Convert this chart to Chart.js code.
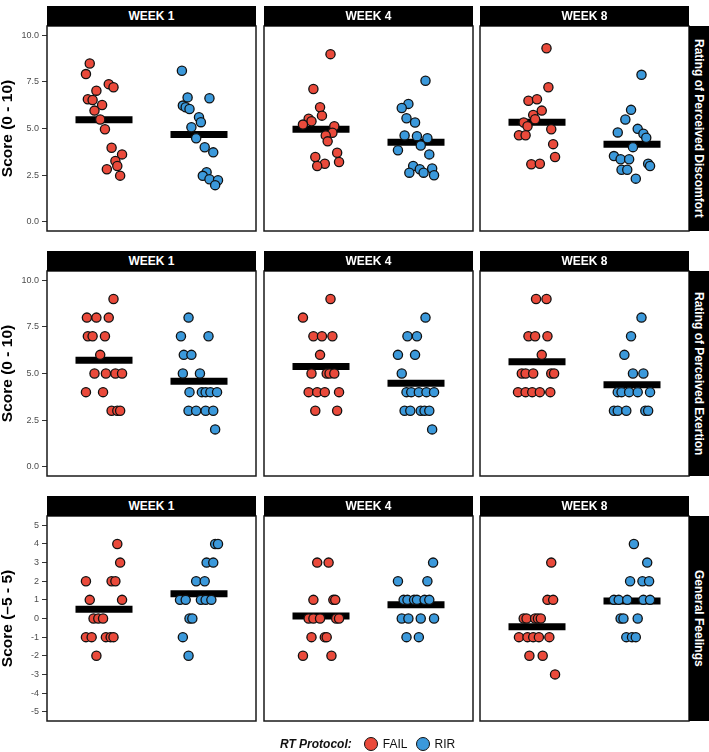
<!DOCTYPE html>
<html><head><meta charset="utf-8">
<script src="https://cdn.jsdelivr.net/npm/chart.js@4.4.1/dist/chart.umd.min.js"></script>
<style>
html,body{margin:0;padding:0;background:#fff;}
body{width:709px;height:752px;position:relative;overflow:hidden;font-family:'Liberation Sans',Arial,Helvetica,sans-serif;}
canvas{position:absolute;}
.strip{position:absolute;background:#000;color:#fff;font-weight:bold;font-size:12px;text-align:center;line-height:20px;height:20px;}
.rstrip{position:absolute;background:#000;color:#fff;font-weight:bold;font-size:12px;writing-mode:vertical-rl;display:flex;align-items:center;justify-content:center;}
#legend{position:absolute;left:280px;top:736px;height:16px;display:flex;align-items:center;font-size:12px;color:#111;}
#legend .ttl{font-weight:bold;font-style:italic;margin-right:12px;}
#legend .key{width:12px;height:12px;border-radius:50%;border:1.5px solid #111;}
</style></head><body>
<script>
// ---------- categories / labels ----------
const weeks = ['WEEK 1', 'WEEK 4', 'WEEK 8'];
const measures = ['Rating of Perceived Discomfort', 'Rating of Perceived Exertion', 'General Feelings'];
const yTitles = ['Score (0 - 10)', 'Score (0 - 10)', 'Score (\u20135 - 5)'];
const protocols = ['FAIL', 'RIR'];
const tickValsA = [0, 2.5, 5, 7.5, 10];
const tickLabelsA = ['0.0', '2.5', '5.0', '7.5', '10.0'];
const tickValsB = [-5, -4, -3, -2, -1, 0, 1, 2, 3, 4, 5];
const tickLabelsB = ['-5', '-4', '-3', '-2', '-1', '0', '1', '2', '3', '4', '5'];
const yRangeA = [-0.5, 10.5];
const yRangeB = [-5.5, 5.5];

// ---------- Rating of Perceived Discomfort ----------
const rpdW1Fail = [8.49,7.92,7.38,7.21,7.03,6.57,6.53,6.26,5.96,5.48,4.96,3.97,3.61,3.26,2.99,2.81,2.47];
const rpdW1FailJit = [-0.15,-0.19,0.05,0.10,-0.08,-0.17,-0.12,-0.02,-0.10,-0.04,0.01,0.08,0.19,0.12,0.14,0.03,0.17];
const rpdW1Rir = [8.10,6.67,6.62,6.23,6.14,6.05,5.60,5.34,5.07,4.48,3.99,3.72,2.65,2.46,2.28,2.22,1.96];
const rpdW1RirJit = [-0.18,-0.12,0.11,-0.17,-0.14,-0.10,0.00,0.02,-0.08,-0.03,0.06,0.15,0.08,0.04,0.11,0.20,0.17];
const rpdW4Fail = [8.99,7.12,6.14,5.69,5.52,5.39,5.21,5.12,4.77,4.63,4.31,3.70,3.47,3.20,3.11,2.99];
const rpdW4FailJit = [0.10,-0.08,-0.01,0.01,-0.13,-0.10,-0.19,0.14,0.12,0.05,0.07,0.17,-0.06,0.19,0.04,-0.04];
const rpdW4Rir = [7.56,6.32,6.10,5.55,5.32,4.63,4.59,4.48,4.09,3.83,3.61,2.99,2.81,2.85,2.63,2.63,2.49];
const rpdW4RirJit = [0.10,-0.08,-0.15,-0.10,-0.01,-0.12,0.01,0.12,0.05,-0.19,0.14,-0.03,0.04,0.17,-0.07,0.08,0.19];
const rpdW8Fail = [9.31,7.21,6.49,6.57,5.96,5.73,5.50,5.32,5.12,4.96,4.64,4.64,4.16,3.47,3.08,3.11];
const rpdW8FailJit = [0.10,0.12,-0.09,0.00,0.05,-0.04,-0.02,-0.14,-0.10,0.15,-0.19,-0.12,0.17,0.19,-0.06,0.03];
const rpdW8Rir = [7.88,6.00,5.48,4.98,4.72,4.50,4.79,4.00,3.52,3.35,3.35,3.11,2.99,2.79,2.79,2.31];
const rpdW8RirJit = [0.10,-0.01,-0.07,0.06,0.12,0.15,-0.15,0.01,-0.19,-0.12,-0.03,0.17,0.19,-0.11,-0.05,0.04];

// ---------- Rating of Perceived Exertion ----------
const rpeW1Fail = [9,8,8,8,7,7,7,6,5,5,5,5,4,4,3,3,3];
const rpeW1FailJit = [0.10,-0.18,-0.08,0.05,-0.17,-0.12,0.01,-0.04,-0.10,0.02,0.12,0.19,-0.19,-0.01,0.08,0.14,0.17];
const rpeW1Rir = [8,7,7,6,6,5,5,4,4,4,4,4,3,3,3,3,2];
const rpeW1RirJit = [-0.11,-0.19,0.10,-0.16,-0.08,-0.17,0.01,-0.10,0.03,0.07,0.12,0.19,-0.11,-0.03,0.07,0.15,0.17];
const rpeW4Fail = [9,8,7,7,7,6,5,5,5,5,4,4,4,4,3,3];
const rpeW4FailJit = [0.10,-0.19,-0.08,0.01,0.12,-0.01,-0.10,0.06,0.09,0.14,-0.13,-0.04,0.04,0.19,-0.06,0.17];
const rpeW4Rir = [8,7,7,6,6,5,4,4,4,4,4,3,3,3,3,3,2];
const rpeW4RirJit = [0.10,-0.09,0.01,-0.19,-0.01,-0.15,-0.10,-0.05,0.03,0.11,0.19,-0.12,-0.06,0.05,0.09,0.14,0.17];
const rpeW8Fail = [9,9,7,7,7,6,5,5,5,5,5,4,4,4,4,4];
const rpeW8FailJit = [-0.01,0.10,-0.09,-0.02,0.11,0.05,-0.16,-0.12,-0.04,0.15,0.18,-0.20,-0.12,-0.05,0.03,0.14];
const rpeW8Rir = [8,7,6,5,5,4,4,4,4,4,3,3,3,3,3];
const rpeW8RirJit = [0.10,-0.01,-0.08,0.01,0.12,-0.15,-0.11,-0.03,0.06,0.19,-0.19,-0.15,-0.06,0.14,0.17];

// ---------- General Feelings ----------
const gfW1Fail = [4,3,2,2,2,1,1,0,0,0,-1,-1,-1,-1,-1,-2];
const gfW1FailJit = [0.14,0.17,-0.19,0.08,0.12,-0.15,0.19,-0.11,-0.06,-0.01,-0.19,-0.13,0.02,0.07,0.10,-0.08];
const gfW1Rir = [4,4,3,3,2,2,1,1,1,1,1,0,0,-1,-2];
const gfW1RirJit = [0.17,0.20,0.08,0.15,-0.03,0.06,-0.20,-0.14,0.02,0.07,0.13,-0.10,-0.07,-0.17,-0.11];
const gfW4Fail = [3,3,1,1,1,0,0,0,0,0,-1,-1,-1,-2,-2];
const gfW4FailJit = [-0.04,0.08,-0.08,0.13,0.15,-0.13,-0.08,-0.01,0.16,0.19,-0.10,0.04,0.06,-0.19,0.11];
const gfW4Rir = [3,2,2,1,1,1,1,1,1,0,0,0,0,-1,-1];
const gfW4RirJit = [0.18,-0.19,0.12,-0.13,-0.09,-0.02,0.01,0.09,0.14,-0.15,-0.08,0.05,0.19,-0.10,0.03];
const gfW8Fail = [3,1,1,0,0,0,0,0,-1,-1,-1,-1,-1,-2,-2,-3];
const gfW8FailJit = [0.15,0.11,0.17,-0.14,-0.11,-0.02,0.01,0.04,-0.19,-0.10,-0.04,0.02,0.13,-0.08,0.06,0.19];
const gfW8Rir = [4,3,2,2,2,1,1,1,1,1,0,0,0,-1,-1,-1];
const gfW8RirJit = [0.02,0.16,-0.02,0.11,0.18,-0.19,-0.14,-0.05,0.12,0.19,-0.12,-0.09,0.06,-0.06,0.00,0.04];

// ---------- assembly (built from the arrays above) ----------
const grid = [
  [[rpdW1Fail, rpdW1FailJit, rpdW1Rir, rpdW1RirJit], [rpdW4Fail, rpdW4FailJit, rpdW4Rir, rpdW4RirJit], [rpdW8Fail, rpdW8FailJit, rpdW8Rir, rpdW8RirJit]],
  [[rpeW1Fail, rpeW1FailJit, rpeW1Rir, rpeW1RirJit], [rpeW4Fail, rpeW4FailJit, rpeW4Rir, rpeW4RirJit], [rpeW8Fail, rpeW8FailJit, rpeW8Rir, rpeW8RirJit]],
  [[gfW1Fail, gfW1FailJit, gfW1Rir, gfW1RirJit], [gfW4Fail, gfW4FailJit, gfW4Rir, gfW4RirJit], [gfW8Fail, gfW8FailJit, gfW8Rir, gfW8RirJit]]
];
const rowTicks = [[tickValsA, tickLabelsA, yRangeA], [tickValsA, tickLabelsA, yRangeA], [tickValsB, tickLabelsB, yRangeB]];

// ---------- styling / layout ----------
const FONT = "'Liberation Sans', Arial, Helvetica, sans-serif";
const colFail = '#EA4A3B';
const colRir = '#3B99DB';
const panelLefts = [47, 264, 480];
const panelTops = [26, 271, 516];
const panelW = 209, panelH = 205, stripH = 20, pad = 10, yAxisW = 47;
const halfBar = 0.3;

const borderPlugin = {
  id: 'panelBorder',
  afterDraw(chart) {
    const {ctx, chartArea: a} = chart;
    ctx.save();
    ctx.strokeStyle = '#1a1a1a';
    ctx.lineWidth = 1.5;
    ctx.strokeRect(a.left, a.top, a.right - a.left, a.bottom - a.top);
    ctx.restore();
  }
};

const mean = arr => arr.reduce((s, v) => s + v, 0) / arr.length;

function pointSet(label, vals, jit, pos, color) {
  return {
    label, data: vals.map((v, i) => ({x: pos + jit[i], y: v})),
    backgroundColor: color, borderColor: '#111', borderWidth: 1.3,
    pointRadius: 4.6, pointHoverRadius: 4.6, order: 0
  };
}
function meanSet(vals, pos) {
  const m = mean(vals);
  return {
    label: 'mean', data: [{x: pos - halfBar, y: m}, {x: pos + halfBar, y: m}],
    showLine: true, borderColor: '#000', backgroundColor: '#000', borderWidth: 7,
    borderCapStyle: 'butt', pointRadius: 0, pointHoverRadius: 0, order: 2
  };
}

function makePanel(r, c) {
  const isLeft = c === 0;
  const [fv, fj, rv, rj] = grid[r][c];
  const [tv, tl, yr] = rowTicks[r];
  const canvas = document.createElement('canvas');
  const cw = (isLeft ? yAxisW : pad) + panelW + pad;
  const ch = pad + panelH + pad;
  canvas.width = cw; canvas.height = ch;
  canvas.style.width = cw + 'px'; canvas.style.height = ch + 'px';
  canvas.style.left = (isLeft ? panelLefts[c] - yAxisW : panelLefts[c] - pad) + 'px';
  canvas.style.top = (panelTops[r] - pad) + 'px';
  document.body.appendChild(canvas);
  new Chart(canvas, {
    type: 'scatter',
    data: {
      datasets: [
        pointSet(protocols[0], fv, fj, 1, colFail),
        pointSet(protocols[1], rv, rj, 2, colRir),
        meanSet(fv, 1),
        meanSet(rv, 2)
      ]
    },
    options: {
      responsive: false, animation: false, devicePixelRatio: 1,
      layout: {padding: {left: isLeft ? 0 : pad, right: pad, top: pad, bottom: pad}},
      plugins: {legend: {display: false}, tooltip: {enabled: false}},
      events: [],
      scales: {
        x: {type: 'linear', min: 0.4, max: 2.6, display: false},
        y: {
          type: 'linear', min: yr[0], max: yr[1], display: isLeft, position: 'left',
          afterFit: s => { s.width = isLeft ? yAxisW : 0; s.paddingTop = 0; s.paddingBottom = 0; },
          afterBuildTicks: s => { s.ticks = tv.map(v => ({value: v})); },
          ticks: {
            callback: v => tl[tv.indexOf(v)],
            font: {size: 9, family: FONT}, color: '#4d4d4d', padding: 3, autoSkip: false
          },
          grid: {drawOnChartArea: false, drawTicks: true, tickLength: 5, color: '#333', lineWidth: 1},
          border: {display: false},
          title: {display: true, text: yTitles[r], color: '#000', padding: 0,
                  font: {size: 15.5, weight: 'bold', family: FONT, lineHeight: 1}}
        }
      }
    },
    plugins: [borderPlugin]
  });
}

for (let r = 0; r < 3; r++) {
  for (let c = 0; c < 3; c++) makePanel(r, c);
}

// strips (facet labels)
for (let r = 0; r < 3; r++) {
  for (let c = 0; c < 3; c++) {
    const s = document.createElement('div');
    s.className = 'strip';
    s.style.left = panelLefts[c] + 'px';
    s.style.top = (panelTops[r] - stripH) + 'px';
    s.style.width = panelW + 'px';
    s.textContent = weeks[c];
    document.body.appendChild(s);
  }
  const rs = document.createElement('div');
  rs.className = 'rstrip';
  rs.style.left = (panelLefts[2] + panelW) + 'px';
  rs.style.top = panelTops[r] + 'px';
  rs.style.width = stripH + 'px';
  rs.style.height = panelH + 'px';
  rs.textContent = measures[r];
  document.body.appendChild(rs);
}

// legend
const lg = document.createElement('div');
lg.id = 'legend';
lg.innerHTML = '<span class="ttl">RT Protocol:</span>' +
  '<span class="key" style="background:' + colFail + ';margin-right:5px"></span><span style="margin-right:9px">' + protocols[0] + '</span>' +
  '<span class="key" style="background:' + colRir + ';margin-right:4px"></span><span>' + protocols[1] + '</span>';
document.body.appendChild(lg);
</script>
</body></html>
